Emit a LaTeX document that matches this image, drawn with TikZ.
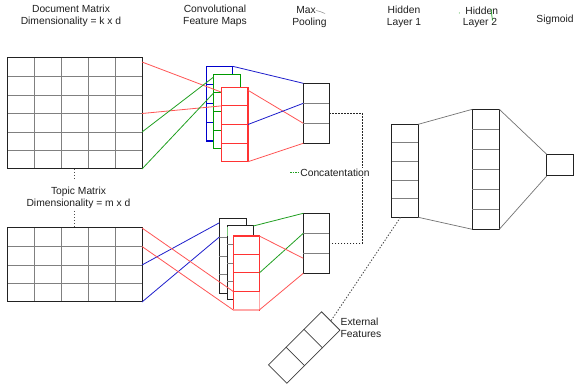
\documentclass[tikz,border=0pt]{standalone}
\usepackage{fontspec}
\setmainfont{Liberation Sans}
\usetikzlibrary{calc}
\definecolor{mapred}{RGB}{255,51,51}
\definecolor{linered}{RGB}{255,85,85}
\definecolor{pinkred}{RGB}{255,168,168}
\definecolor{mapblue}{RGB}{0,0,204}
\definecolor{lineblue}{RGB}{30,30,204}
\definecolor{mapgreen}{RGB}{0,153,0}
\definecolor{linegreen}{RGB}{34,160,34}
\definecolor{divgray}{RGB}{128,128,128}
\definecolor{bord}{RGB}{34,34,34}
\begin{document}
\begin{tikzpicture}[x=1pt,y=-1pt,
  lbl/.style={font=\fontsize{10.3}{12}\selectfont, inner sep=0pt, align=center, text=black!88},
  box/.style={draw=bord, line width=1pt, inner sep=0pt, anchor=north west, outer sep=0pt},
  wbox/.style={box, fill=white},
  divline/.style={draw=divgray, line width=0.8pt},
  colrect/.style={inner sep=0pt, anchor=north west, outer sep=0pt, line width=1.1pt, fill=white},
  redline/.style={draw=linered, line width=0.8pt},
  blueline/.style={draw=lineblue, line width=0.8pt},
  greenline/.style={draw=linegreen, line width=0.8pt},
  grayline/.style={draw=black!55, line width=0.7pt},
  dotl/.style={draw=black!85, line width=1pt, dash pattern=on 1.4pt off 1.6pt},
  dotlg/.style={draw=black!70, line width=0.9pt, dash pattern=on 1.3pt off 1.7pt}
]
\useasboundingbox[fill=white] (0,0) rectangle (574,385);

% ---------- labels ----------
\node[lbl] (l1) at (71,16) {Document Matrix\\Dimensionality = k x d};
\node[lbl] (l2) at (215,16) {Convolutional\\Feature Maps};
\node[lbl] (l3a) at (306,10.5) {Max};
\node[lbl] (l3b) at (309.5,22.5) {Pooling};
\node[lbl] (l4) at (404,17) {Hidden\\Layer 1};
\node[lbl] (l5a) at (481.7,11) {Hidden};
\node[lbl] (l5b) at (480,23) {Layer 2};
\node[lbl] (l6) at (555,19.5) {Sigmoid};
\node[lbl] (ltop) at (78.5,198) {Topic Matrix\\Dimensionality = m x d};
\node[lbl, align=left, anchor=west] (lext) at (340.5,328) {External\\Features};

% tiny stray marks
\draw[draw=black!45, line width=0.5pt] (316,10.5) -- (320,11.5) -- (325,13.5);
\draw[draw=linegreen, line width=0.7pt] (491,9) -- (492.5,20.5);
\fill[linegreen] (459.3,13) circle (0.5pt);
\draw[draw=linegreen, line width=0.7pt, dash pattern=on 1.5pt off 1pt] (290,172.5) -- (301,172.5);

% ---------- document matrix ----------
\foreach \x in {34,61,88,115} \draw[divline] (\x,58) -- (\x,169);
\foreach \y in {76.5,95,113.5,132,150.5} \draw[divline] (7,\y) -- (142,\y);
\node[box, minimum width=135pt, minimum height=111pt] (docm) at (7,58) {};

% ---------- topic matrix ----------
\foreach \x in {34,61,88,115} \draw[divline] (\x,228) -- (\x,302);
\foreach \y in {246.5,265,283.5} \draw[divline] (7,\y) -- (142,\y);
\node[box, minimum width=135pt, minimum height=74pt] (topm) at (7,228) {};

\draw[dotlg, line width=0.7pt] (docm.south) -- (74.5,179);
\draw[dotlg, line width=0.7pt] (74.5,211) -- (topm.north);

% ---------- top convolutional maps ----------
\node[colrect, draw=mapblue, minimum width=26.4pt, minimum height=74.7pt] (cb1) at (206.3,66.3) {};
\foreach \y in {85,103.5,122.2} \draw[draw=mapblue, line width=1pt] (206.3,\y) -- (232.7,\y);
\node[colrect, draw=mapgreen, minimum width=26.6pt, minimum height=74.4pt] (cg1) at (213.7,74.3) {};
\foreach \y in {92.9,111.5,130.1} \draw[draw=mapgreen, line width=1pt] (213.7,\y) -- (240.3,\y);
\node[colrect, draw=mapred, minimum width=26.7pt, minimum height=74.4pt] (cr1) at (221.3,87.3) {};
\foreach \y in {106,124.6,143.1} \draw[draw=mapred, line width=1pt] (221.3,\y) -- (248,\y);

% ---------- bottom convolutional maps ----------
\draw[draw=mapblue, line width=1pt] (220,219) rectangle (246.8,294);
\node[wbox, minimum width=26.7pt, minimum height=75pt] (b1) at (219.3,218.3) {};
\foreach \y in {237,256,274.5} \draw[divline] (219.3,\y) -- (246,\y);
\node[wbox, minimum width=26pt, minimum height=74pt] (b2) at (227.3,226) {};
\draw[draw=linegreen!60, line width=1pt] (227.8,227) -- (227.8,236);
\foreach \y in {244.5,263,281.5} \draw[divline] (227.3,\y) -- (253.3,\y);
\node[colrect, draw=mapred, minimum width=26pt, minimum height=74pt] (b3) at (233.3,236) {};
\foreach \y in {254.5,273,291.5} \draw[draw=mapred, line width=1pt] (233.3,\y) -- (259.3,\y);
\draw[draw=pinkred, line width=1.1pt] (b3.south west) -- (b3.south east);
\draw[draw=pinkred, line width=1.1pt] (259.3,292) -- (b3.south east);

% ---------- max pooling ----------
\node[wbox, minimum width=26pt, minimum height=60pt] (p1) at (303.3,83.3) {};
\foreach \y in {103.3,123.3} \draw[divline] (303.3,\y) -- (329.3,\y);
\node[wbox, minimum width=26pt, minimum height=60pt] (p2) at (303.3,213.3) {};
\foreach \y in {233.3,253.3} \draw[divline] (303.3,\y) -- (329.3,\y);

% ---------- hidden layers & sigmoid ----------
\node[wbox, minimum width=26.6pt, minimum height=93pt] (h1) at (391.7,124.3) {};
\foreach \y in {142.9,161.5,180.1,198.7} \draw[divline] (391.7,\y) -- (418.3,\y);
\node[wbox, minimum width=27pt, minimum height=120pt] (h2) at (472.3,109.3) {};
\foreach \y in {129.3,149.3,169.3,189.3,209.3} \draw[divline] (472.3,\y) -- (499.3,\y);
\node[wbox, minimum width=26.6pt, minimum height=21.7pt] (sig) at (546.7,154.3) {};

% ---------- external features ----------
\node[draw=black!75, line width=0.8pt, fill=white, inner sep=0pt, minimum width=75pt, minimum height=26pt, rotate=45] (ext) at (304.2,347.5) {};
\draw[draw=black!75, line width=0.8pt] ($(ext.south west)!1/3!(ext.south east)$) -- ($(ext.north west)!1/3!(ext.north east)$);
\draw[draw=black!75, line width=0.8pt] ($(ext.south west)!2/3!(ext.south east)$) -- ($(ext.north west)!2/3!(ext.north east)$);

% ---------- connectors: document matrix -> conv ----------
\draw[redline] ($(docm.north east)!0.036!(docm.south east)$) -- ($(cr1.north west)!0.065!(cr1.south west)$);
\draw[redline] (docm.east) -- ($(cr1.north west)!0.25!(cr1.south west)$);
\draw[greenline] ($(docm.north east)!0.667!(docm.south east)$) -- ($(cg1.north west)!0.036!(cg1.south west)$);
\draw[greenline] (docm.south east) -- ($(cg1.north west)!0.25!(cg1.south west)$);

% ---------- conv -> pooling (top) ----------
\draw[blueline] (cb1.north east) -- (p1.north west);
\draw[redline] ($(cr1.north east)!0.04!(cr1.south east)$) -- ($(p1.north west)!2/3!(p1.south west)$);
\draw[blueline] ($(cr1.north east)!0.5!(cr1.south east)$) -- ($(p1.north west)!1/3!(p1.south west)$);
\draw[redline] (cr1.south east) -- (p1.south west);

% ---------- topic matrix -> conv ----------
\draw[blueline] (topm.east) -- ($(b1.north west)!0.06!(b1.south west)$);
\draw[blueline] (topm.south east) -- ($(b1.north west)!0.25!(b1.south west)$);
\draw[redline] (topm.north east) -- ($(b3.north west)!0.75!(b3.south west)$);
\draw[redline] ($(topm.north east)!0.25!(topm.south east)$) -- (b3.south west);

% ---------- conv -> pooling (bottom) ----------
\draw[greenline] (b2.north east) -- (p2.north west);
\draw[greenline] ($(b3.north east)!0.5!(b3.south east)$) -- ($(p2.north west)!1/3!(p2.south west)$);
\draw[redline] (b3.north east) -- ($(p2.north west)!0.75!(p2.south west)$);
\draw[redline] (b3.south east) -- (p2.south west);

% ---------- concatenation ----------
\coordinate (cc1) at (362.3,113.3);
\draw[dotl] (p1.east) -- (cc1) |- (p2.east);
\node[lbl, fill=white, inner sep=0.6pt] (lcat) at (335,172.5) {Concatentation};

% ---------- dense connections ----------
\draw[grayline] (h1.north east) -- (h2.north west);
\draw[grayline] (h1.south east) -- (h2.south west);
\draw[grayline] (h2.north east) -- (sig.north west);
\draw[grayline] (h2.south east) -- (sig.south west);

% ---------- external features link ----------
\draw[dotlg] ($(h1.south west)!0.33!(h1.south east)$) -- (ext.east);
\end{tikzpicture}
\end{document}
